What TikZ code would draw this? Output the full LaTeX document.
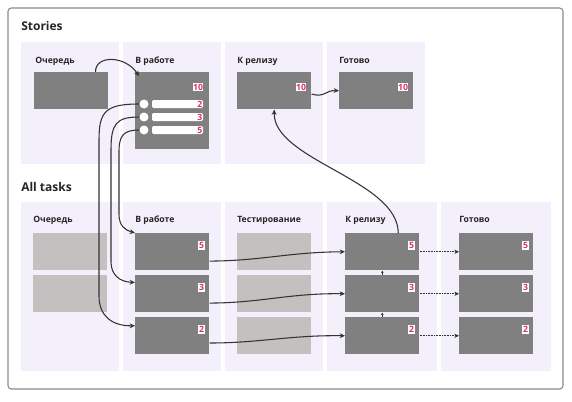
\documentclass[tikz,border=0pt]{standalone}
\usepackage{fontspec}
\setmainfont{Open Sans}
\usetikzlibrary{arrows.meta,calc}
\definecolor{lanefill}{HTML}{F4F0FB}
\definecolor{cardgray}{HTML}{808080}
\definecolor{ghostgray}{HTML}{C4C0BF}
\definecolor{numpink}{HTML}{D6336C}
\definecolor{framegray}{HTML}{8A8A8A}
\definecolor{linegray}{HTML}{333333}
\def\px{0.75pt}
\tikzset{
  storylane/.style={fill=lanefill,anchor=north west,inner sep=0,minimum width=#1*\px,minimum height=122*\px},
  storylane/.default=98,
  tasklane/.style={fill=lanefill,anchor=north west,inner sep=0,minimum width=#1*\px,minimum height=169*\px},
  tasklane/.default=98,
  sectiontitle/.style={anchor=base west,inner sep=0,text=black!85,font=\bfseries\fontsize{9}{11}\selectfont},
  lanetitle/.style={anchor=base west,inner sep=0,text=black!85,font=\bfseries\fontsize{6.5}{8}\selectfont},
  cardbox/.style={fill=cardgray,anchor=north west,inner sep=0,minimum width=74*\px,minimum height=37*\px},
  ghostbox/.style={cardbox,fill=ghostgray},
  badge/.style={fill=white,text=numpink,inner xsep=0.4pt,inner ysep=0.8pt,font=\bfseries\fontsize{6.5}{7}\selectfont},
  subdot/.style={circle,fill=white,inner sep=0,minimum size=9*\px},
  subbar/.style={fill=white,rounded corners=1pt,inner sep=0,minimum width=51*\px,minimum height=8*\px},
  subnum/.style={anchor=east,text=numpink,inner sep=0.5pt,font=\bfseries\fontsize{6.5}{7}\selectfont},
  flow/.style={draw=linegray,line width=0.8pt,-{Stealth[length=4pt,width=3.6pt]}},
  dotflow/.style={draw=linegray,line width=0.7pt,dash pattern=on 0.6pt off 0.6pt,-{Stealth[length=3.5pt,width=3.2pt]}},
  tinyflow/.style={draw=linegray,line width=0.5pt,-{Stealth[length=2pt,width=2pt]}}
}
\begin{document}
\begin{tikzpicture}[x=0.75pt,y=-0.75pt]
\useasboundingbox (0,0) rectangle (572,401);
\draw[framegray,line width=0.8pt,rounded corners=2.5pt] (8,8) rectangle (563,389);
% stories
\node[sectiontitle] (stitle) at (21,30) {Stories};
\node[storylane] (sl1) at (21,42) {};
\node[storylane] (sl2) at (123,42) {};
\node[storylane] (sl3) at (225,42) {};
\node[storylane] (sl4) at (327,42) {};
\node[lanetitle] at (35,63) {Очередь};
\node[lanetitle] at (135,63) {В работе};
\node[lanetitle] at (237,63) {К релизу};
\node[lanetitle] at (339,63) {Готово};
\node[cardbox] (sq) at (34,72) {};
\node[cardbox,minimum height=77*\px] (sw) at (135,72) {};
\node[cardbox] (sr) at (237,72) {};
\node[cardbox] (sd) at (339,72) {};
\node[badge] at (198,87) {10};
\node[badge] at (301,87) {10};
\node[badge] at (403,87) {10};
% subtasks of the story in work
\node[subdot] (c1) at (144,104) {};
\node[subdot] (c2) at (144,117) {};
\node[subdot] (c3) at (144,130) {};
\node[subbar] (b1) at (177.5,104) {};
\node[subbar] (b2) at (177.5,117) {};
\node[subbar] (b3) at (177.5,130) {};
\node[subnum] at (b1.east) {2};
\node[subnum] at (b2.east) {3};
\node[subnum] at (b3.east) {5};
% all tasks
\node[sectiontitle] (ttitle) at (21,191) {All tasks};
\node[tasklane] (tl1) at (21,202) {};
\node[tasklane] (tl2) at (123,202) {};
\node[tasklane] (tl3) at (225,202) {};
\node[tasklane=110] (tl4) at (327,202) {};
\node[tasklane=110] (tl5) at (441,202) {};
\node[lanetitle] at (33,222) {Очередь};
\node[lanetitle] at (135,222) {В работе};
\node[lanetitle] at (237,222) {Тестирование};
\node[lanetitle] at (345,222) {К релизу};
\node[lanetitle] at (459,222) {Готово};
\node[ghostbox] (q1) at (33,233) {};
\node[ghostbox] (q2) at (33,275) {};
\node[cardbox] (w1) at (135,233) {};
\node[cardbox] (w2) at (135,275) {};
\node[cardbox] (w3) at (135,317) {};
\node[ghostbox] (t1) at (237,233) {};
\node[ghostbox] (t2) at (237,275) {};
\node[ghostbox] (t3) at (237,317) {};
\node[cardbox] (k1) at (345,233) {};
\node[cardbox] (k2) at (345,275) {};
\node[cardbox] (k3) at (345,317) {};
\node[cardbox] (d1) at (459,233) {};
\node[cardbox] (d2) at (459,275) {};
\node[cardbox] (d3) at (459,317) {};
\node[badge] at (201.5,245.5) {5};
\node[badge] at (201.5,287.5) {3};
\node[badge] at (201.5,329.5) {2};
\node[badge] at (411.5,245.5) {5};
\node[badge] at (411.5,287.5) {3};
\node[badge] at (411.5,329.5) {2};
\node[badge] at (525.5,245.5) {5};
\node[badge] at (525.5,287.5) {3};
\node[badge] at (525.5,329.5) {2};
% connectors
\draw[flow] ($(sq.north east)+(-13,0)$) .. controls (95,55) and (125,55) .. ($(sw.north west)+(4,4)$);
\draw[flow] (sr.-5) .. controls (325,98) and (325,90) .. (sd.west);
\draw[flow] (c1.west) .. controls (105,104) and (99,112) .. (99,140) -- (99,296) .. controls (99,316) and (112,326) .. (w3.165);
\draw[flow] (c2.west) .. controls (116,117) and (111,124) .. (111,150) -- (111,262) .. controls (111,275) and (120,282) .. (w2.163);
\draw[flow] (c3.west) .. controls (123,130) and (119,136) .. (119,152) -- (119,214) .. controls (119,226) and (125,230) .. (w1.north west);
\draw[flow] (w1.-14) .. controls (260,261) and (290,252) .. (k1.west);
\draw[flow] (w2.-14) .. controls (260,303) and (290,293) .. (k2.west);
\draw[flow] (w3.-11) .. controls (260,343) and (290,335) .. (k3.west);
\draw[dotflow] (k1.east) -- (d1.west);
\draw[dotflow] (k2.east) -- (d2.west);
\draw[dotflow] (k3.east) -- (d3.west);
\draw[tinyflow] (k3.north) -- (k2.south);
\draw[tinyflow] (k2.north) -- (k1.south);
\draw[flow] ($(k1.north)+(16,0)$) .. controls (398,180) and (273,160) .. (sr.south);
\end{tikzpicture}
\end{document}
